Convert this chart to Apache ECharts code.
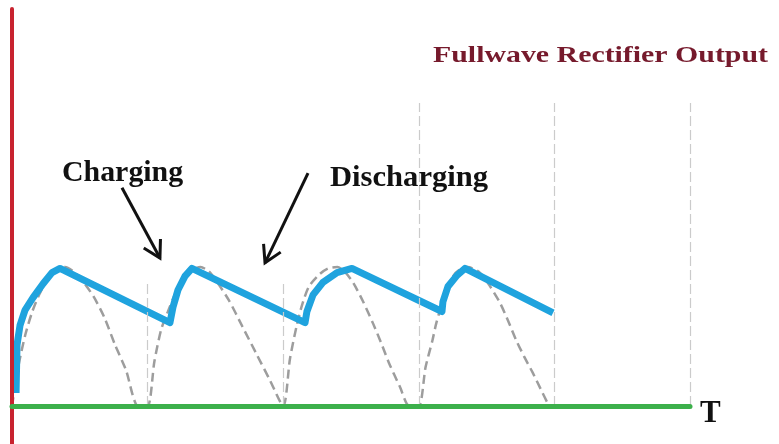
<!DOCTYPE html>
<html><head><meta charset="utf-8">
<script src="https://cdn.jsdelivr.net/npm/echarts/dist/echarts.min.js"></script>
<style>html,body{margin:0;padding:0;background:#fff}#c{width:779px;height:444px}</style>
</head><body><div id="c"></div>
<script>
// Rectified (full-wave) input, dashed grey curve
const rectifiedX = [
  0, 0.05, 0.1, 0.15, 0.2, 0.27, 0.33, 0.39, 0.45, 0.52, 0.6, 0.68, 0.76, 0.84, 0.93,
  1, 1.05, 1.1, 1.15, 1.2, 1.27, 1.33, 1.39, 1.45, 1.5, 1.6, 1.7, 1.8, 1.9, 2.0,
  2.05, 2.1, 2.14, 2.19, 2.27, 2.33, 2.4, 2.46, 2.52, 2.59, 2.66, 2.72, 2.78, 2.86, 2.93,
  3, 3.05, 3.1, 3.13, 3.18, 3.25, 3.3, 3.36, 3.45, 3.52, 3.6, 3.66, 3.72, 3.78, 3.84, 3.9, 3.96
];
const rectifiedY = [
  0, 0.30, 0.52, 0.68, 0.80, 0.93, 0.98, 1.00, 0.97, 0.90, 0.79, 0.64, 0.44, 0.26, 0,
  0, 0.32, 0.55, 0.68, 0.80, 0.93, 0.98, 1.00, 0.97, 0.91, 0.76, 0.57, 0.38, 0.19, 0,
  0.34, 0.58, 0.73, 0.86, 0.95, 0.99, 1.00, 0.96, 0.88, 0.75, 0.60, 0.46, 0.31, 0.14, 0,
  0, 0.28, 0.47, 0.60, 0.76, 0.93, 0.98, 1.00, 0.96, 0.87, 0.74, 0.61, 0.47, 0.35, 0.24, 0.12, 0
];
// Capacitor (filtered) output, blue curve
const outputX = [0.03, 0.037, 0.059, 0.096, 0.155, 0.229, 0.295, 0.354, 1.165,
  1.187, 1.224, 1.276, 1.327, 2.161,
  2.175, 2.22, 2.293, 2.397, 2.507, 3.171,
  3.178, 3.215, 3.282, 3.341, 3.99];
const outputY = [0.094, 0.44, 0.58, 0.69, 0.78, 0.88, 0.96, 0.99, 0.60,
  0.71, 0.835, 0.935, 0.99, 0.60,
  0.68, 0.80, 0.89, 0.96, 0.99, 0.68,
  0.75, 0.86, 0.94, 0.99, 0.67];
// Vertical dashed guide lines
const guideX = [1, 2, 3, 4, 5];
const guideTop = [0.9, 0.9, 2.18, 2.18, 2.18];
// Labels
const titleText = 'Fullwave Rectifier Output';
const chargingText = 'Charging';
const dischargingText = 'Discharging';
const axisText = 'T';
// Annotation arrows (data coordinates): [fromX, fromY, toX, toY]
const chargingArrow = [0.811, 1.57, 1.091, 1.065];
const dischargingArrow = [2.183, 1.676, 1.866, 1.03];

const chart = echarts.init(document.getElementById('c'), null, {renderer: 'canvas'});
const option = {
  animation: false,
  backgroundColor: '#ffffff',
  grid: {left: 12, right: 89, top: 9, bottom: 0},
  xAxis: {
    type: 'value', min: 0, max: 5, z: 5,
    axisLine: {onZero: true, lineStyle: {color: '#3cb04b', width: 5}},
    axisTick: {show: false}, axisLabel: {show: false}, splitLine: {show: false}
  },
  yAxis: {
    type: 'value', min: -0.273, max: 2.856, z: 5,
    axisLine: {show: true, onZero: false, lineStyle: {color: '#c8232f', width: 4}},
    axisTick: {show: false}, axisLabel: {show: false}, splitLine: {show: false}
  },
  series: [
    {
      type: 'line', name: 'guides', data: [], silent: true,
      markLine: {
        silent: true, symbol: 'none', label: {show: false},
        lineStyle: {color: '#cbcbcb', width: 1.2, type: [10, 4]},
        data: guideX.map((x, i) => [{coord: [x, 0]}, {coord: [x, guideTop[i]]}])
      }
    },
    {
      type: 'line', name: 'rectified', showSymbol: false, smooth: 0.25,
      data: rectifiedX.map((x, i) => [x, rectifiedY[i]]),
      lineStyle: {color: '#9d9d9d', width: 2.5, type: [9, 5]}, z: 3
    },
    {
      type: 'line', name: 'output', showSymbol: false,
      data: outputX.map((x, i) => [x, outputY[i]]),
      lineStyle: {color: '#1fa3de', width: 7, cap: 'butt', join: 'round'}, z: 4
    }
  ]
};
chart.setOption(option);

function textEl(text, x, y, size, color, sx) {
  return {
    type: 'text', x: x, y: y, scaleX: sx, z: 10,
    style: {
      text: text, x: 0, y: 0, fill: color,
      font: 'bold ' + size + 'px "Liberation Serif", "Times New Roman", serif',
      align: 'left', verticalAlign: 'middle', textAlign: 'left', textVerticalAlign: 'middle'
    }
  };
}
function arrowEls(a) {
  const p0 = chart.convertToPixel({gridIndex: 0}, [a[0], a[1]]);
  const p1 = chart.convertToPixel({gridIndex: 0}, [a[2], a[3]]);
  const ang = Math.atan2(p0[1] - p1[1], p0[0] - p1[0]);
  const len = 19, spread = Math.PI / 6;
  const h1 = [p1[0] + len * Math.cos(ang + spread), p1[1] + len * Math.sin(ang + spread)];
  const h2 = [p1[0] + len * Math.cos(ang - spread), p1[1] + len * Math.sin(ang - spread)];
  const st = {stroke: '#111111', lineWidth: 3, fill: null, lineJoin: 'miter'};
  return [
    {type: 'polyline', z: 10, shape: {points: [p0, p1]}, style: st},
    {type: 'polyline', z: 10, shape: {points: [h1, p1, h2]}, style: st}
  ];
}
chart.setOption({
  graphic: [
    textEl(titleText, 433, 55.8, 24, '#761a2c', 1.244),
    textEl(chargingText, 62, 174, 29, '#111111', 1.03),
    textEl(dischargingText, 330, 178.5, 29, '#111111', 1.055),
    textEl(axisText, 700, 414, 31, '#111111', 1)
  ].concat(arrowEls(chargingArrow), arrowEls(dischargingArrow))
});
</script>
</body></html>
